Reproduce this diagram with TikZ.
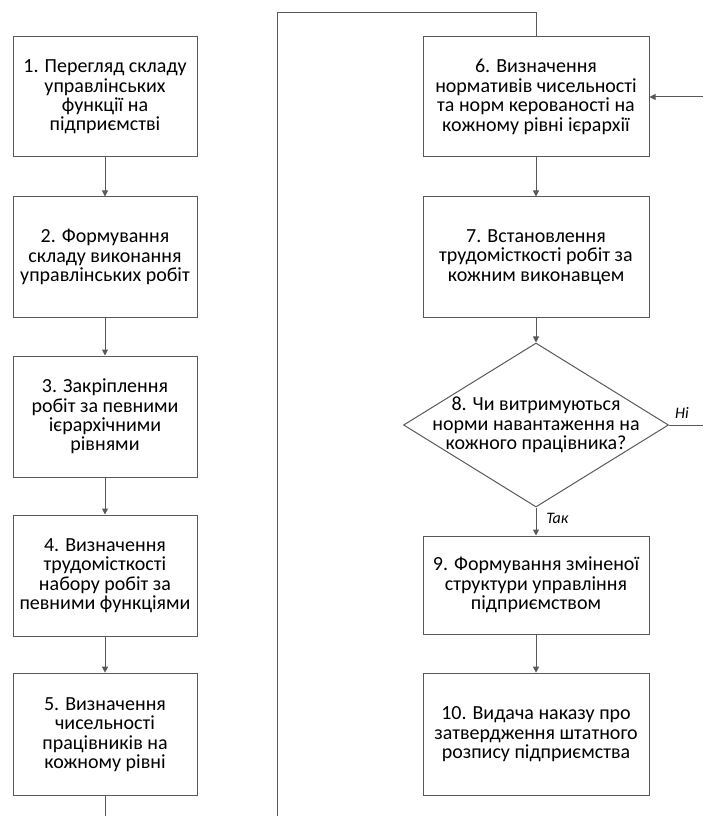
\documentclass[tikz,border=0pt]{standalone}
\usepackage{fontspec}
\setmainfont{Carlito}
\usetikzlibrary{arrows.meta,positioning,shapes.geometric}
\definecolor{edge}{HTML}{595959}
\tikzset{
  stepbox/.style={draw=edge, line width=0.75pt, align=center, minimum width=138pt,
                  minimum height=90pt, inner sep=2pt, font=\fontsize{15}{14.6}\selectfont},
  widebox/.style={stepbox, minimum width=169.5pt},
  decision/.style={diamond, draw=edge, line width=0.75pt, minimum width=198.75pt,
                   minimum height=123pt, inner sep=0pt},
  flow/.style={-{Triangle[length=4.5pt,width=4.5pt]}, line width=0.75pt, draw=edge},
  wire/.style={line width=0.75pt, draw=edge},
  answer/.style={font=\fontsize{12}{13}\selectfont\itshape}
}
\begin{document}
\begin{tikzpicture}[x=0.75pt,y=-0.75pt]
  \useasboundingbox (0,0) rectangle (703,816);
  % left column
  \node[stepbox] (b1) at (105,97) {1. Перегляд складу\\управлінських\\функції на\\підприємстві};
  \node[stepbox] (b2) at (105,257) {2. Формування\\складу виконання\\управлінських робіт};
  \node[stepbox, minimum height=90.75pt] (b3) at (105,416.5) {3. Закріплення\\робіт за певними\\ієрархічними\\рівнями};
  \node[stepbox, minimum height=90.75pt] (b4) at (105,575.5) {4. Визначення\\трудомісткості\\набору робіт за\\певними функціями};
  \node[stepbox, minimum height=92pt] (b5) at (105,734.5) {5. Визначення\\чисельності\\працівників на\\кожному рівні};
  % right column
  \node[widebox] (b6) at (536,97) {6. Визначення\\нормативів чисельності\\та норм керованості на\\кожному рівні ієрархії};
  \node[widebox] (b7) at (536,257) {7. Встановлення\\трудомісткості робіт за\\кожним виконавцем};
  \node[decision] (dec) at (536,425) {};
  \node[align=center, font=\fontsize{15}{14.6}\selectfont] (dectext) at (dec) {8. Чи витримуються\\норми навантаження на\\кожного працівника?};
  \node[widebox, minimum height=73.5pt] (b9) at (536,585) {9. Формування зміненої\\структури управління\\підприємством};
  \node[widebox, minimum height=92pt] (b10) at (536,734.5) {10. Видача наказу про\\затвердження штатного\\розпису підприємства};
  % free ends
  \coordinate (b5end) at (105,816);
  \coordinate (loopbot) at (277,816);
  \coordinate (looptop) at (277,13);
  \coordinate (noend) at (703,425);
  \coordinate (backin) at (703,97);
  % connectors
  \draw[flow] (b1) -- (b2);
  \draw[flow] (b2) -- (b3);
  \draw[flow] (b3) -- (b4);
  \draw[flow] (b4) -- (b5);
  \draw[wire] (b5) -- (b5end);
  \draw[wire] (loopbot) -- (looptop) -| (b6.north);
  \draw[flow] (b6) -- (b7);
  \draw[flow] (b7) -- (dec);
  \draw[flow] (dec) -- node[answer, right, xshift=4pt, yshift=2pt] {Так} (b9);
  \draw[flow] (b9) -- (b10);
  \draw[wire] (dec) -- (noend) node[answer, above left, xshift=-7pt, yshift=1pt] {Ні};
  \draw[flow] (backin) -- (b6);
\end{tikzpicture}
\end{document}
